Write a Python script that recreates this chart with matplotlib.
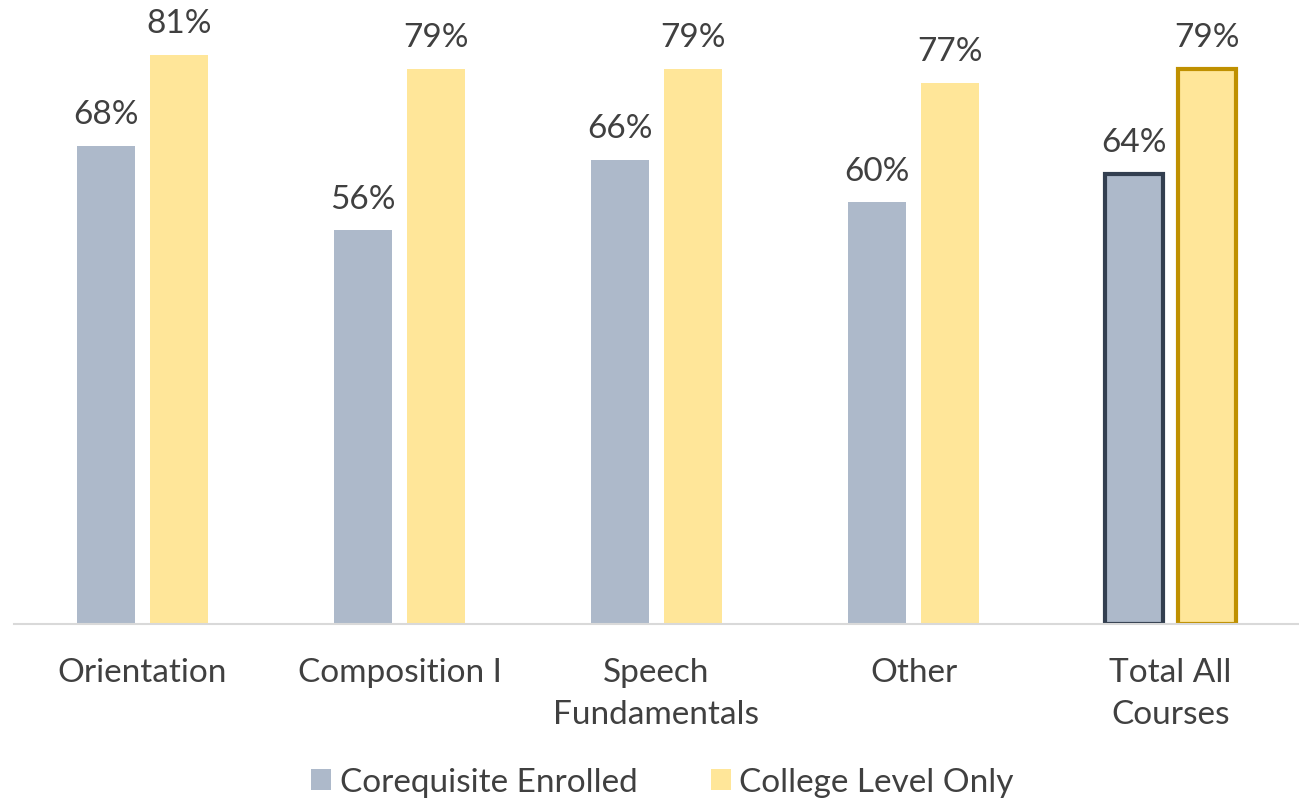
import numpy as np
import matplotlib.pyplot as plt
from matplotlib.patches import Patch

categories = ["Orientation", "Composition I", "Speech\nFundamentals", "Other", "Total All\nCourses"]
coreq = [68, 56, 66, 60, 64]
college = [81, 79, 79, 77, 79]
series_names = ["Corequisite Enrolled", "College Level Only"]

plt.rcParams['font.family'] = ['Lato', 'DejaVu Sans']
txt = "#404040"

fig = plt.figure(figsize=(12.99, 8.04), dpi=100)
ax = fig.add_axes([14 / 1299, 179 / 804, 1 - 14 / 1299, 625 / 804])

x = np.arange(len(categories))
w = 0.222
off = 0.142
# only the total group gets an outline
ec1 = ["none"] * 4 + ["#333F50"]
ec2 = ["none"] * 4 + ["#BF9000"]
lw = [0] * 4 + [3]
b1 = ax.bar(x - off, coreq, w, color="#ADB9CA", edgecolor=ec1, linewidth=lw, label=series_names[0])
b2 = ax.bar(x + off, college, w, color="#FFE699", edgecolor=ec2, linewidth=lw, label=series_names[1])

for bars, vals in ((b1, coreq), (b2, college)):
    for r, v in zip(bars, vals):
        ax.annotate(f"{v}%", (r.get_x() + r.get_width() / 2, v), xytext=(0, 12),
                    textcoords="offset points", ha="center", va="bottom",
                    fontsize=24, color=txt)

ax.set_xlim(-0.5, len(categories) - 0.5)
ax.set_ylim(0, 625 / 7.03)
ax.set_yticks([])
ax.set_xticks(x)
ax.set_xticklabels(categories, fontsize=24, color=txt, linespacing=1.5)
ax.tick_params(axis="x", length=0, pad=24)
for s in ["top", "right", "left"]:
    ax.spines[s].set_visible(False)
ax.spines["bottom"].set_color("#D9D9D9")
ax.spines["bottom"].set_linewidth(1.5)

handles = [Patch(facecolor="#ADB9CA"), Patch(facecolor="#FFE699")]
fig.legend(handles, series_names, loc="lower center", bbox_to_anchor=(0.51, -0.03),
           ncol=2, frameon=False, fontsize=24, labelcolor=txt,
           handlelength=0.6, handleheight=0.6, handletextpad=0.25, columnspacing=2.2)

fig.savefig("out.png", dpi=100)
